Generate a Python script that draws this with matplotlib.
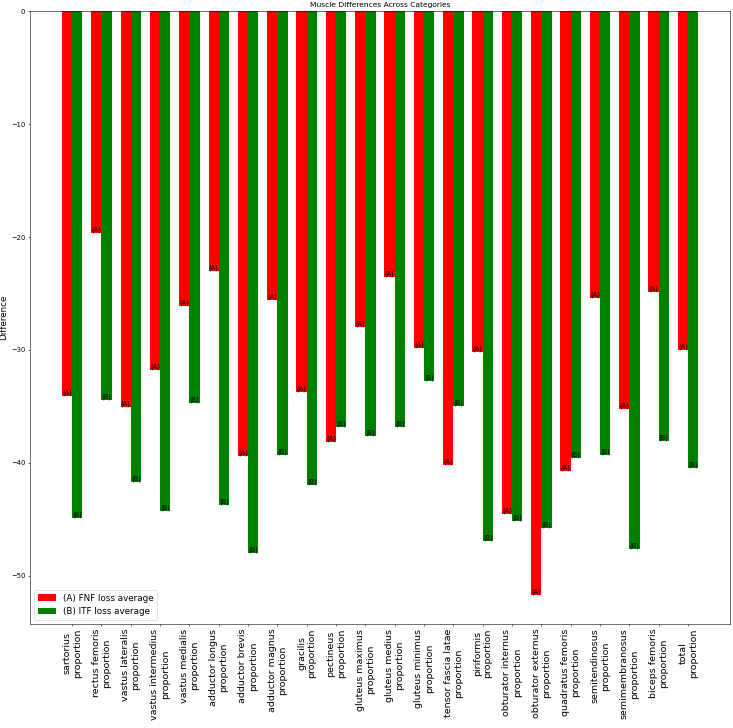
"""muscle differences across categories: grouped bar chart"""

import numpy as np
import matplotlib
matplotlib.use("Agg")
import matplotlib.pyplot as plt

# categories (tick labels)
CATEGORIES = [
    "sartorius\nproportion", "rectus femoris\nproportion", "vastus lateralis\nproportion",
    "vastus intermedius\nproportion", "vastus medialis\nproportion", "adductor longus\nproportion",
    "adductor brevis\nproportion", "adductor magnus\nproportion", "gracilis\nproportion",
    "pectineus\nproportion", "gluteus maximus\nproportion", "gluteus medius\nproportion",
    "gluteus minimus\nproportion", "tensor fascia latae\nproportion", "piriformis\nproportion",
    "obturator internus\nproportion", "obturator externus\nproportion",
    "quadratus femoris\nproportion", "semitendinosus\nproportion",
    "semimembranosus\nproportion", "biceps femoris\nproportion", "total\nproportion",
]

# (A) FNF loss average
FNF_LOSS = [-34.1, -19.65, -35.1, -31.8, -26.1, -23.0, -39.4, -25.55, -33.7, -38.2, -28.0,
            -23.5, -29.8, -40.2, -30.2, -44.5, -51.7, -40.7, -25.4, -35.2, -24.9, -30.0]

# (B) ITF loss average
ITF_LOSS = [-44.9, -34.4, -41.7, -44.3, -34.7, -43.7, -48.0, -39.3, -42.0, -36.8, -37.6,
            -36.8, -32.8, -35.0, -46.9, -45.2, -45.8, -39.6, -39.35, -47.6, -38.05, -40.5]

BAR_WIDTH = 0.35

# the chart is a 15x15in figure shrunk to ~733px, so scale every size
S = 0.4887
plt.rcParams.update({
    'font.size': 10*S,
    'axes.linewidth': 0.8*S,
    'xtick.major.width': 0.8*S,
    'ytick.major.width': 0.8*S,
    'xtick.major.size': 3.5*S,
    'ytick.major.size': 3.5*S,
    'xtick.major.pad': 3.5*S,
    'ytick.major.pad': 3.5*S,
    'axes.titlepad': 6*S,
    'axes.labelpad': 4*S,
    'patch.linewidth': 1.0*S,
})

fig, ax = plt.subplots(figsize=(7.33, 7.28), dpi=100)
fig.subplots_adjust(left=0.041, right=0.996, top=0.9845, bottom=0.1429)

x = np.arange(len(CATEGORIES))
bars_a = ax.bar(x - BAR_WIDTH/2, FNF_LOSS, BAR_WIDTH, color='red', label='(A) FNF loss average')
bars_b = ax.bar(x + BAR_WIDTH/2, ITF_LOSS, BAR_WIDTH, color='green', label='(B) ITF loss average')

# small tag at the end of each bar
for bar in bars_a:
    ax.text(bar.get_x() + bar.get_width()/2, bar.get_height(), '(A)',
            ha='center', va='bottom', fontsize=10*S)
for bar in bars_b:
    ax.text(bar.get_x() + bar.get_width()/2, bar.get_height(), '(B)',
            ha='center', va='bottom', fontsize=10*S)

ax.set_title('Muscle Differences Across Categories', fontsize=11*S)
ax.set_ylabel('Difference', fontsize=13*S)
ax.set_xticks(x)
ax.set_xticklabels(CATEGORIES, rotation=90, ha='center', fontsize=14*S)
ax.legend(loc='lower left', fontsize=13*S)

fig.savefig('out.png', dpi=100)
